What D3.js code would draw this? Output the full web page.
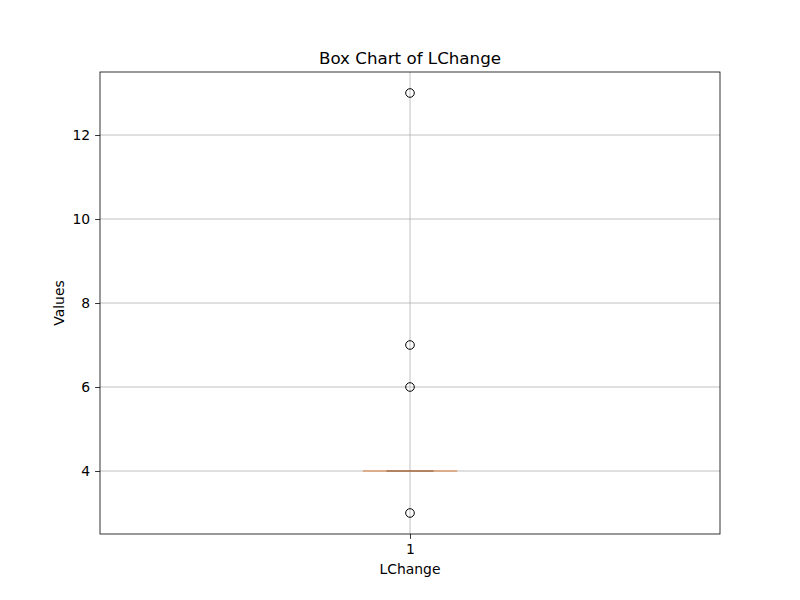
<!DOCTYPE html>
<html><head><meta charset="utf-8">
<script src="https://cdn.jsdelivr.net/npm/d3@7"></script>
<style>body{margin:0;background:#fff;font-family:"DejaVu Sans",sans-serif;}</style>
</head><body>
<script>
const categories = ["1"];
const values = [4,4,4,4,4,4,4,4,4,4,4,4,4,4,4,4,4,4,4,4,3,6,7,13];
const yTicks = [4,6,8,10,12];

const W=800,H=600,L=100,R=720,T=72,B=534;
const svg=d3.select("body").append("svg").attr("width",W).attr("height",H);
const x=d3.scaleLinear().domain([0.5,1.5]).range([L,R]);
const y=d3.scaleLinear().domain([2.5,13.5]).range([B,T]);

svg.append("g").selectAll("line").data(yTicks).join("line")
 .attr("x1",L).attr("x2",R).attr("y1",d=>y(d)).attr("y2",d=>y(d)).attr("stroke","#b0b0b0").attr("stroke-width",0.8);
svg.append("line").attr("x1",x(1)).attr("x2",x(1)).attr("y1",T).attr("y2",B).attr("stroke","#b0b0b0").attr("stroke-width",0.8);

const s=values.slice().sort(d3.ascending);
const q1=d3.quantile(s,0.25),q3=d3.quantile(s,0.75),med=d3.median(s),iqr=q3-q1;
const inl=s.filter(v=>v>=q1-1.5*iqr&&v<=q3+1.5*iqr);
const wLo=d3.min(inl),wHi=d3.max(inl);
const out=s.filter(v=>v<wLo||v>wHi);
const bw=0.152,cw=0.076;
const g=svg.append("g");
g.append("rect").attr("x",x(1-bw/2)).attr("width",x(1+bw/2)-x(1-bw/2)).attr("y",y(q3)).attr("height",Math.max(0,y(q1)-y(q3))).attr("fill","none").attr("stroke","#000").attr("stroke-opacity",0.4);
g.append("line").attr("x1",x(1)).attr("x2",x(1)).attr("y1",y(q3)).attr("y2",y(wHi)).attr("stroke","#000");
g.append("line").attr("x1",x(1)).attr("x2",x(1)).attr("y1",y(q1)).attr("y2",y(wLo)).attr("stroke","#000");
[wLo,wHi].forEach(v=>g.append("line").attr("x1",x(1-cw/2)).attr("x2",x(1+cw/2)).attr("y1",y(v)).attr("y2",y(v)).attr("stroke","#000").attr("stroke-opacity",0.6));
g.append("line").attr("x1",x(1-bw/2)).attr("x2",x(1+bw/2)).attr("y1",y(med)).attr("y2",y(med)).attr("stroke","#d9905a").attr("stroke-width",1.5).attr("stroke-opacity",0.85);
g.selectAll("circle").data(out).join("circle").attr("cx",x(1)).attr("cy",d=>y(d)).attr("r",4.3).attr("fill","none").attr("stroke","#000").attr("stroke-width",1);

svg.append("rect").attr("x",L).attr("y",T).attr("width",R-L).attr("height",B-T).attr("fill","none").attr("stroke","#000").attr("stroke-width",0.8);
const ya=svg.append("g").attr("transform",`translate(${L},0)`).call(d3.axisLeft(y).tickValues(yTicks).tickSize(4.9).tickPadding(4.9).tickFormat(d3.format("d")));
const xa=svg.append("g").attr("transform",`translate(0,${B})`).call(d3.axisBottom(x).tickValues([1]).tickSize(4.9).tickPadding(4.9).tickFormat(()=>categories[0]));
[ya,xa].forEach(a=>{a.select(".domain").remove();a.selectAll("line").attr("stroke-width",0.8);a.selectAll("text").attr("font-size",13.9).attr("fill","#000").attr("font-family","DejaVu Sans");});
svg.append("text").attr("x",(L+R)/2).attr("y",64).attr("text-anchor","middle").attr("font-size",16.7).attr("font-family","DejaVu Sans").text("Box Chart of LChange");
svg.append("text").attr("x",(L+R)/2).attr("y",574).attr("text-anchor","middle").attr("font-size",13.9).attr("font-family","DejaVu Sans").text("LChange");
svg.append("text").attr("transform",`translate(64,${(T+B)/2}) rotate(-90)`).attr("text-anchor","middle").attr("font-size",13.9).attr("font-family","DejaVu Sans").text("Values");
</script>
</body></html>
